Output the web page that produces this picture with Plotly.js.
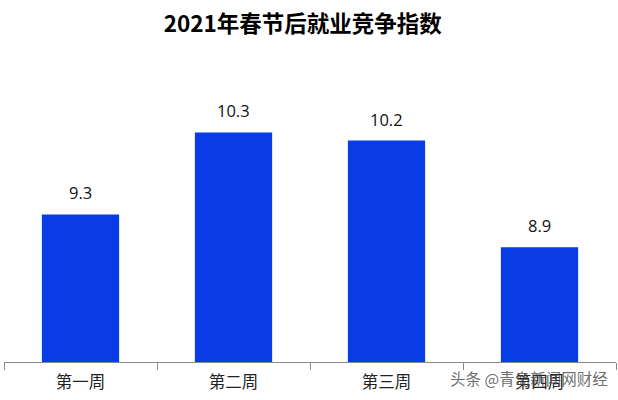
<!DOCTYPE html>
<html><head><meta charset="utf-8"><script src="https://cdn.plot.ly/plotly-3.0.1.min.js"></script>
<style>html,body{margin:0;padding:0;background:#fff}</style></head><body><div id="c" style="width:618px;height:400px"></div>
<script>
var categories=["第一周","第二周","第三周","第四周"];
var values=[9.3,10.3,10.2,8.9];
var labels=["9.3","10.3","10.2","8.9"];
var watermark="头条 @青岛新闻网财经";
var font="Noto Sans CJK SC";
var anns=categories.map(function(c,i){return {x:c,y:values[i],text:labels[i],showarrow:false,xref:"x",yref:"y",yanchor:"middle",yshift:21.5,font:{family:"Open Sans",size:16.5,color:"#111"}};});
anns.push({xref:"paper",yref:"paper",x:0.725,y:-0.0437,xanchor:"left",yanchor:"middle",text:watermark,showarrow:false,font:{family:font,size:15.5,color:"rgba(70,70,70,0.8)"}});
Plotly.newPlot("c",[{type:"bar",x:categories,y:values,marker:{color:"#0a3ce6"},width:0.505}],
{width:618,height:400,margin:{l:3.5,r:2,t:0,b:38},paper_bgcolor:"#fff",plot_bgcolor:"#fff",showlegend:false,annotations:anns,
title:{text:"<b>2021年春节后就业竞争指数</b>",x:0.49,xanchor:"center",y:0.94,yanchor:"middle",font:{family:font,size:22.5,color:"#000"}},
xaxis:{type:"category",tickson:"boundaries",showline:true,linecolor:"#8a8a8a",linewidth:1,ticks:"outside",ticklen:7,tickcolor:"#8a8a8a",tickwidth:1,ticklabelstandoff:5,tickfont:{family:font,size:16.5,color:"#222"},showgrid:false},
yaxis:{range:[7.5,11.915],visible:false,showgrid:false,zeroline:false}},{displayModeBar:false,staticPlot:true});
</script></body></html>
